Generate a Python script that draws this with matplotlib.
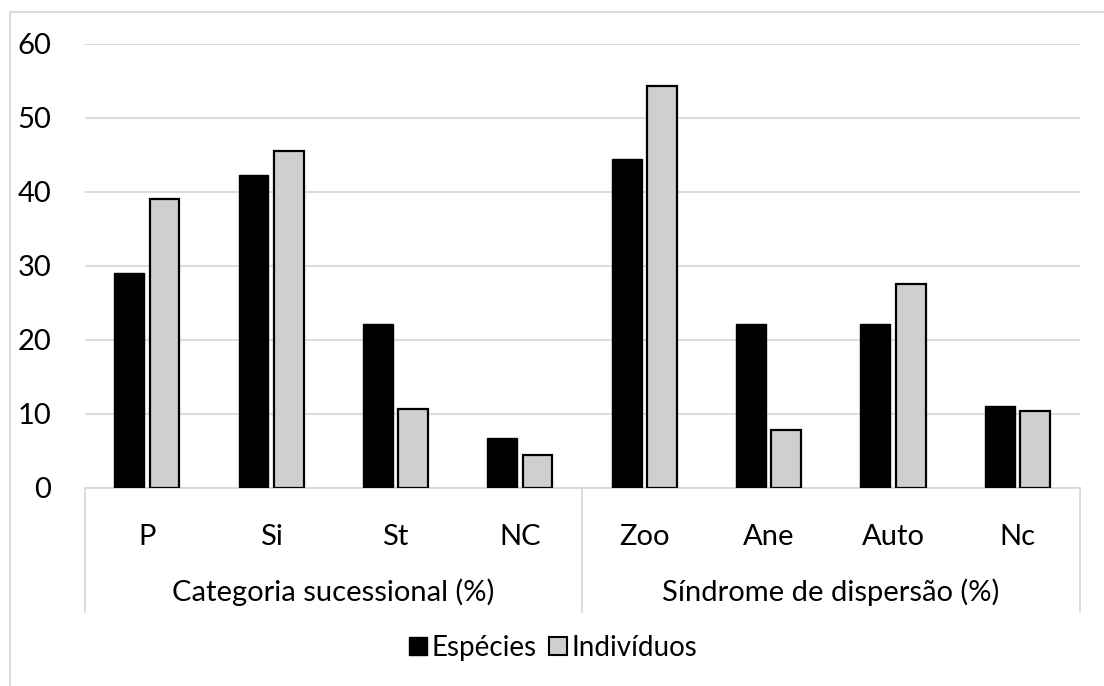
import numpy as np
import matplotlib
matplotlib.use('Agg')
import matplotlib.pyplot as plt
from matplotlib.patches import Patch, Rectangle
from matplotlib.transforms import blended_transform_factory

plt.rcParams['font.family'] = ['Lato', 'DejaVu Sans']

# data
categorias = ['P', 'Si', 'St', 'NC', 'Zoo', 'Ane', 'Auto', 'Nc']
grupos = ['Categoria sucessional (%)', 'Síndrome de dispersão (%)']
especies = [29.0, 42.2, 22.1, 6.7, 44.4, 22.1, 22.1, 11.1]
individuos = [39.0, 45.5, 10.7, 4.5, 54.3, 7.8, 27.6, 10.4]
yticks = [0, 10, 20, 30, 40, 50, 60]

W, H = 1104, 686
fs = 21
fig = plt.figure(figsize=(W / 100, H / 100), dpi=100)

# outer chart border (cut off right/bottom like the original)
fig.patches.append(Rectangle((10 / W, -0.1), 1.2, 1 - 12 / H + 0.1,
                             transform=fig.transFigure, fill=False,
                             edgecolor='#D9D9D9', linewidth=1.3))

left, right, top, bottom = 84.6, 1079.6, 43.5, 488
ax = fig.add_axes([left / W, 1 - bottom / H, (right - left) / W, (bottom - top) / H])

x = np.arange(len(categorias))
w = 0.24
off = 0.142
ax.bar(x - off, especies, w, color='black', edgecolor='black', linewidth=1.0, zorder=3)
ax.bar(x + off, individuos, w, color='#D0CECE', edgecolor='black', linewidth=1.6, zorder=3)

ax.set_xlim(-0.5, len(categorias) - 0.5)
ax.set_ylim(0, 60)
ax.set_yticks(yticks)
ax.yaxis.grid(True, color='#D9D9D9', linewidth=1.3, zorder=0)
for s in ['top', 'right', 'left']:
    ax.spines[s].set_visible(False)
ax.spines['bottom'].set_color('#D9D9D9')
ax.spines['bottom'].set_linewidth(1.3)
ax.tick_params(axis='y', length=0, pad=24, labelsize=fs, colors='#000000')
ax.set_xticks(x)
ax.set_xticklabels(categorias)
ax.tick_params(axis='x', length=0, pad=26, labelsize=fs)

axh = bottom - top
tr = blended_transform_factory(ax.transData, ax.transAxes)
ysep = -(612 - bottom) / axh
for xs in [-0.5, 3.5, 7.5]:
    ax.plot([xs, xs], [0, ysep], transform=tr, color='#D9D9D9', linewidth=1.3, clip_on=False)
ygr = -(592 - bottom) / axh
for i, g in enumerate(grupos):
    ax.text(1.5 + 4 * i, ygr, g, transform=tr, ha='center', va='center', fontsize=fs)

handles = [Patch(facecolor='black', edgecolor='black', label='Espécies'),
           Patch(facecolor='#D0CECE', edgecolor='black', linewidth=1.5, label='Indivíduos')]
fig.legend(handles=handles, loc='center', bbox_to_anchor=(553 / W, 1 - 648 / H), ncol=2,
           frameon=False, fontsize=20, handlelength=0.65, handleheight=0.6,
           handletextpad=0.15, columnspacing=0.45)

fig.savefig('out.png', dpi=100, facecolor='white')
